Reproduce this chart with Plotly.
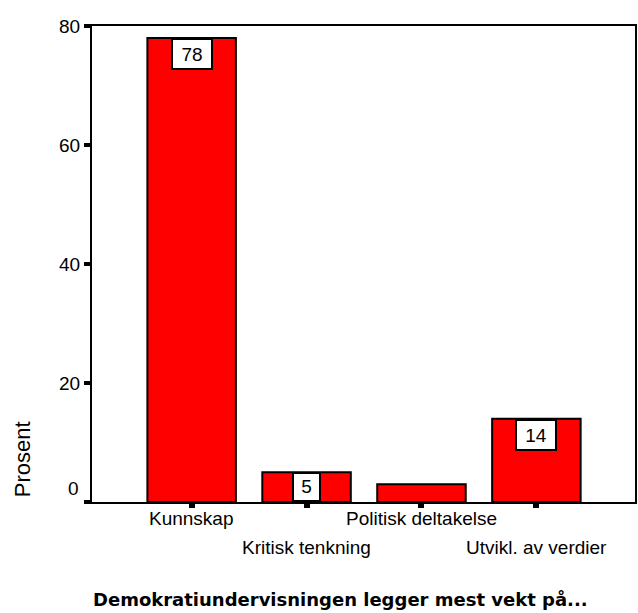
import plotly.graph_objects as go

# Survey result: which aspect democracy teaching emphasises most
categories = ["Kunnskap", "Kritisk tenkning", "Politisk deltakelse", "Utvikl. av verdier"]
percent = [78, 5, 3, 14]
labelled = [True, True, False, True]
y_ticks = [0, 20, 40, 60, 80]
y_title = "Prosent"
x_title = "Demokratiundervisningen legger mest vekt på..."

W, H = 638, 613
M_L, M_R, M_T, M_B = 92, 1, 26, 111
plot_h = H - M_T - M_B
px_per_unit = plot_h / 80.0

tick_font = dict(family="Liberation Sans, Arial, sans-serif", size=19, color="black")

fig = go.Figure()
fig.add_trace(go.Bar(
    x=list(range(len(categories))),
    y=percent,
    marker=dict(color="#FF0000", line=dict(color="black", width=2)),
    width=0.77,
    hoverinfo="skip",
))

annotations = []

# value boxes at the top of each labelled bar
for i, (v, show) in enumerate(zip(percent, labelled)):
    if not show:
        continue
    txt = str(v)
    box_w = 38 if len(txt) > 1 else 25
    box_h = min(28, v * px_per_unit - 4)
    annotations.append(dict(
        x=i, y=v, xref="x", yref="y", text=txt, showarrow=False,
        xanchor="center", yanchor="top",
        width=box_w, height=box_h,
        bgcolor="white", bordercolor="black", borderwidth=2, borderpad=0,
        font=tick_font,
    ))

# staggered category labels under the axis
for i, name in enumerate(categories):
    annotations.append(dict(
        x=i, y=0, xref="x", yref="y", text=name, showarrow=False,
        xanchor="center", yanchor="middle",
        yshift=-16 if i % 2 == 0 else -45,
        font=tick_font,
    ))

# the zero label sits a little above its tick
annotations.append(dict(
    x=0, y=0, xref="paper", yref="y", text=str(y_ticks[0]), showarrow=False,
    xanchor="right", yanchor="middle", xshift=-11, yshift=14, font=tick_font,
))

annotations.append(dict(
    x=(22 - M_L) / (W - M_L - M_R), y=(502 - 459) / plot_h,
    xref="paper", yref="paper", text=y_title, showarrow=False,
    textangle=-90, xanchor="center", yanchor="middle",
    font=dict(family="Liberation Sans, Arial, sans-serif", size=22, color="black"),
))

annotations.append(dict(
    x=(341.5 - M_L) / (W - M_L - M_R), y=(502 - 599) / plot_h,
    xref="paper", yref="paper", text="<b>" + x_title + "</b>", showarrow=False,
    xanchor="center", yanchor="middle",
    font=dict(family="DejaVu Sans, Verdana, sans-serif", size=18, color="black"),
))

fig.update_layout(
    width=W, height=H,
    margin=dict(l=M_L, r=M_R, t=M_T, b=M_B, pad=0),
    paper_bgcolor="white", plot_bgcolor="white",
    showlegend=False,
    annotations=annotations,
    xaxis=dict(
        range=[-0.867, 3.858],
        tickvals=list(range(len(categories))),
        showticklabels=False,
        ticks="outside", ticklen=4, tickwidth=6, tickcolor="black",
        showline=True, linecolor="black", linewidth=2, mirror=True,
        showgrid=False, zeroline=False, fixedrange=True,
    ),
    yaxis=dict(
        range=[0, 80],
        tickvals=y_ticks,
        ticktext=[""] + [str(t) for t in y_ticks[1:]],
        tickfont=tick_font,
        ticks="outside", ticklen=6, tickwidth=4, tickcolor="black",
        showline=True, linecolor="black", linewidth=2, mirror=True,
        showgrid=False, zeroline=False, fixedrange=True,
    ),
)

fig.write_html("out.html")
